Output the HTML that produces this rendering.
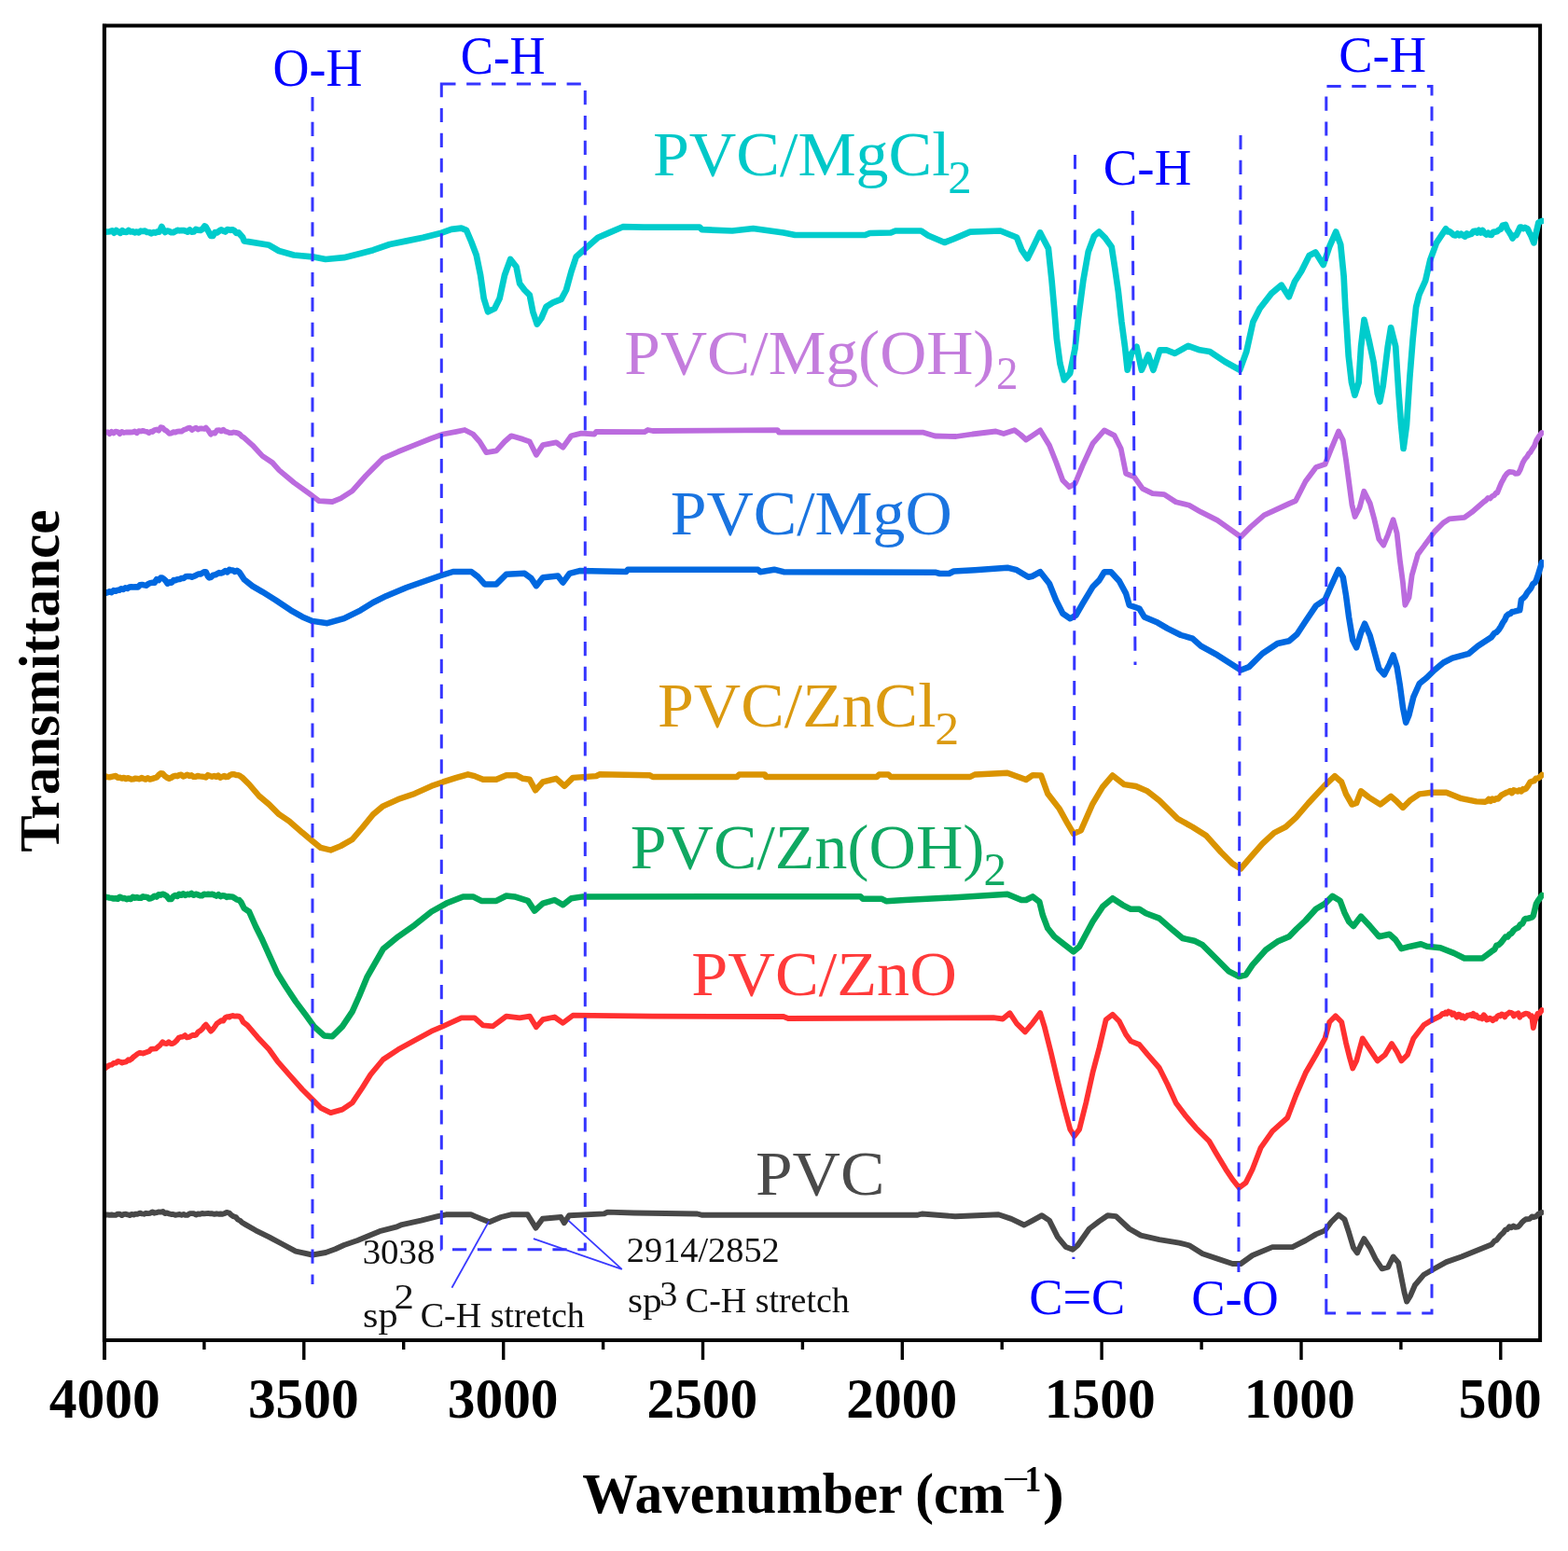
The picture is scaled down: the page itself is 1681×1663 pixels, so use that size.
<!DOCTYPE html><html><head><meta charset="utf-8"><style>html,body{margin:0;padding:0;background:#fff;}svg{display:block;}text{font-family:"Liberation Serif",serif;}</style></head><body>
<svg width="1681" height="1663" viewBox="0 0 1681 1663">
<rect width="100%" height="100%" fill="#fff"/>
<defs><clipPath id="pa"><rect x="111" y="27" width="1544" height="1411"/></clipPath></defs>
<g stroke="#000" fill="none">
<rect x="111.8" y="27.5" width="1539.3" height="1409.5" stroke-width="4"/>
<line x1="112.0" y1="1437" x2="112.0" y2="1458" stroke-width="3.4"/>
<line x1="218.9" y1="1437" x2="218.9" y2="1447" stroke-width="3.4"/>
<line x1="325.8" y1="1437" x2="325.8" y2="1458" stroke-width="3.4"/>
<line x1="432.7" y1="1437" x2="432.7" y2="1447" stroke-width="3.4"/>
<line x1="539.7" y1="1437" x2="539.7" y2="1458" stroke-width="3.4"/>
<line x1="646.6" y1="1437" x2="646.6" y2="1447" stroke-width="3.4"/>
<line x1="753.5" y1="1437" x2="753.5" y2="1458" stroke-width="3.4"/>
<line x1="860.4" y1="1437" x2="860.4" y2="1447" stroke-width="3.4"/>
<line x1="967.3" y1="1437" x2="967.3" y2="1458" stroke-width="3.4"/>
<line x1="1074.2" y1="1437" x2="1074.2" y2="1447" stroke-width="3.4"/>
<line x1="1181.1" y1="1437" x2="1181.1" y2="1458" stroke-width="3.4"/>
<line x1="1288.1" y1="1437" x2="1288.1" y2="1447" stroke-width="3.4"/>
<line x1="1395.0" y1="1437" x2="1395.0" y2="1458" stroke-width="3.4"/>
<line x1="1501.9" y1="1437" x2="1501.9" y2="1447" stroke-width="3.4"/>
<line x1="1608.8" y1="1437" x2="1608.8" y2="1458" stroke-width="3.4"/>
</g>
<g clip-path="url(#pa)" fill="none" stroke-linejoin="round" stroke-linecap="round">
<polyline stroke="#484848" stroke-width="5.9" points="112.0,1303.0 115.2,1302.4 117.4,1302.9 119.6,1302.5 121.8,1302.9 124.0,1302.9 126.2,1301.7 128.4,1301.6 130.6,1303.1 132.8,1301.9 135.0,1301.8 136.8,1302.3 139.0,1303.1 141.2,1301.9 143.4,1302.5 145.6,1301.6 147.8,1301.7 150.0,1300.6 152.2,1301.4 154.4,1301.7 156.6,1300.8 158.8,1301.1 161.0,1300.8 163.2,1299.4 165.4,1300.7 167.6,1300.2 169.8,1299.4 172.5,1299.6 174.7,1299.0 176.9,1301.0 179.1,1300.5 181.3,1301.4 183.5,1302.0 185.7,1302.0 187.9,1302.8 190.3,1302.3 192.5,1302.0 194.7,1302.8 196.9,1302.0 199.1,1302.9 201.3,1302.7 203.5,1301.1 205.7,1301.1 207.9,1301.2 210.1,1302.6 212.3,1301.5 214.5,1301.8 216.7,1301.0 218.9,1301.4 221.1,1301.1 223.3,1300.9 225.5,1301.3 227.7,1301.3 229.9,1301.8 232.1,1301.3 234.3,1301.7 236.5,1301.5 238.7,1301.7 240.9,1301.0 243.1,1299.9 245.6,1300.5 247.8,1302.6 250.0,1304.2 252.8,1305.0 255.0,1307.6 257.2,1308.6 259.4,1310.7 261.7,1312.1 274.2,1319.3 288.5,1326.4 302.8,1334.0 317.0,1341.6 334.9,1345.5 349.2,1343.0 359.5,1339.3 368.8,1335.0 383.3,1330.0 397.8,1324.0 407.0,1320.2 424.6,1315.7 430.9,1313.1 451.4,1308.6 469.2,1304.1 478.2,1302.3 504.9,1302.3 515.6,1306.8 524.6,1310.3 537.1,1305.0 547.8,1302.3 565.6,1302.3 574.5,1316.6 581.7,1306.8 601.3,1305.0 604.9,1311.2 610.2,1303.2 647.7,1301.4 651.3,1299.6 679.8,1300.5 747.6,1301.5 753.0,1302.8 983.0,1302.8 988.4,1301.5 1024.0,1304.2 1070.5,1302.3 1084.2,1306.9 1098.0,1313.5 1107.1,1308.6 1117.0,1303.2 1125.0,1308.6 1133.9,1326.4 1142.8,1337.1 1150.0,1339.8 1155.3,1335.3 1167.8,1317.5 1178.5,1309.4 1187.5,1303.2 1196.4,1304.1 1210.7,1317.5 1223.1,1324.6 1242.8,1329.1 1264.2,1332.6 1274.9,1335.3 1289.2,1344.3 1305.2,1349.6 1321.3,1355.0 1330.2,1355.0 1342.7,1346.0 1364.1,1337.1 1385.6,1337.1 1399.7,1330.0 1410.9,1323.4 1420.5,1319.4 1426.9,1310.5 1435.0,1302.5 1441.4,1307.3 1446.2,1321.8 1451.0,1337.8 1455.0,1343.4 1459.1,1334.6 1462.3,1328.2 1468.7,1337.8 1475.1,1350.7 1481.6,1360.3 1488.0,1358.7 1493.6,1347.5 1499.2,1353.9 1502.4,1369.9 1505.6,1386.0 1508.1,1395.6 1512.1,1389.2 1516.9,1378.0 1526.5,1366.7 1537.8,1360.3 1550.6,1353.1 1566.7,1347.5 1582.7,1341.0 1598.8,1334.6 1602.2,1330.6 1604.4,1329.7 1606.6,1326.9 1608.8,1324.2 1611.6,1321.8 1613.8,1318.7 1616.0,1318.1 1618.1,1315.3 1620.3,1316.3 1622.5,1314.5 1624.7,1315.9 1627.7,1315.3 1629.9,1312.9 1632.1,1310.2 1634.3,1308.3 1635.7,1307.3 1637.9,1307.2 1640.1,1306.8 1642.3,1304.5 1644.5,1305.0 1647.0,1304.1 1649.2,1301.7 1653.0,1300.0"/>
<polyline stroke="#ff3030" stroke-width="5.8" points="112.0,1146.0 115.2,1143.5 117.4,1142.0 119.6,1141.7 121.8,1139.9 124.3,1139.6 126.5,1137.9 128.7,1138.5 130.9,1139.6 133.1,1138.8 135.3,1138.3 137.5,1136.3 138.6,1136.9 140.8,1135.6 143.0,1133.4 145.2,1131.7 147.4,1130.0 149.6,1128.9 151.0,1128.9 153.2,1129.6 155.4,1128.7 157.6,1128.0 159.8,1127.3 162.0,1124.9 164.2,1124.6 167.1,1124.4 169.3,1122.6 171.5,1120.8 174.3,1117.3 176.5,1118.7 178.7,1119.2 180.9,1117.2 183.1,1119.1 185.0,1119.1 187.2,1117.8 189.4,1115.6 191.6,1112.8 193.9,1111.9 196.1,1111.6 198.3,1110.1 200.5,1112.4 202.7,1112.0 204.9,1110.7 207.1,1109.7 208.2,1110.2 210.4,1109.4 212.6,1106.3 214.8,1105.2 217.0,1103.1 219.2,1100.0 220.7,1098.6 222.9,1101.3 226.0,1105.7 228.2,1103.6 230.4,1100.6 232.6,1097.4 234.9,1095.9 237.1,1094.2 239.3,1094.6 241.5,1091.2 243.7,1090.1 245.9,1090.7 247.4,1089.6 249.6,1088.9 251.8,1089.7 254.0,1089.5 256.3,1089.6 258.5,1091.5 260.7,1095.9 265.3,1099.4 276.0,1111.9 288.5,1125.3 297.4,1137.8 309.9,1152.1 324.2,1168.2 334.9,1178.9 343.8,1187.8 354.5,1193.1 367.0,1189.6 377.7,1182.4 388.4,1166.4 397.3,1152.1 410.7,1136.0 426.8,1125.3 444.6,1115.5 462.5,1105.7 475.0,1100.3 494.6,1091.4 508.9,1091.4 517.8,1099.4 528.5,1100.3 542.8,1089.6 557.1,1091.4 567.8,1089.6 574.9,1101.2 582.0,1093.2 594.5,1090.5 603.5,1096.8 614.2,1088.7 699.8,1089.6 840.0,1090.0 845.0,1092.0 1065.0,1091.2 1075.0,1092.5 1082.5,1086.2 1090.0,1097.5 1099.0,1106.4 1107.1,1096.8 1115.2,1086.1 1119.6,1100.3 1126.8,1128.9 1133.9,1159.2 1141.0,1187.8 1147.3,1211.0 1151.8,1218.1 1157.1,1211.0 1164.3,1182.4 1171.4,1150.3 1178.5,1123.5 1185.7,1093.2 1192.8,1087.8 1199.9,1095.0 1207.1,1109.3 1212.4,1116.4 1221.4,1120.0 1230.3,1130.7 1242.8,1145.0 1251.7,1162.8 1260.6,1182.4 1271.3,1196.7 1282.0,1209.2 1296.3,1223.5 1303.5,1236.0 1314.2,1253.8 1321.3,1264.5 1328.4,1273.5 1335.6,1268.1 1342.7,1253.8 1351.6,1230.6 1364.1,1212.8 1380.2,1198.5 1389.5,1174.0 1399.7,1150.3 1410.9,1131.0 1420.5,1113.4 1425.3,1095.7 1431.8,1089.3 1438.2,1095.7 1443.0,1118.2 1447.0,1134.2 1450.2,1145.5 1454.2,1137.5 1460.7,1113.4 1467.1,1123.0 1476.7,1137.5 1484.8,1131.0 1492.0,1119.0 1497.6,1127.8 1502.4,1137.5 1508.9,1131.0 1515.3,1113.4 1526.5,1098.9 1534.6,1094.1 1544.2,1089.3 1546.6,1086.8 1548.2,1087.2 1549.8,1085.5 1551.4,1086.9 1553.0,1084.6 1553.8,1085.3 1555.4,1085.3 1557.0,1087.9 1558.6,1086.5 1560.2,1088.4 1561.8,1090.7 1563.4,1087.6 1565.0,1088.1 1566.7,1090.9 1568.3,1089.4 1569.9,1091.7 1571.5,1090.7 1573.1,1088.7 1574.7,1088.9 1576.3,1087.9 1577.9,1089.0 1579.5,1086.8 1581.1,1089.7 1582.7,1088.5 1584.3,1090.8 1585.9,1091.5 1587.5,1090.8 1589.1,1092.3 1590.7,1088.2 1592.3,1089.9 1593.9,1093.5 1595.5,1093.0 1597.1,1091.6 1598.8,1092.5 1600.4,1094.2 1602.0,1092.1 1603.6,1092.6 1605.2,1089.6 1606.8,1088.6 1608.4,1089.4 1610.0,1087.4 1611.6,1088.1 1613.2,1090.4 1614.9,1087.7 1616.5,1087.0 1618.1,1085.5 1619.7,1085.8 1621.3,1086.4 1622.9,1089.5 1624.5,1087.5 1626.1,1087.3 1627.7,1086.4 1629.3,1090.7 1630.9,1088.5 1632.5,1088.2 1634.1,1087.3 1635.7,1086.7 1637.3,1086.8 1638.9,1087.5 1640.5,1090.0 1642.2,1089.3 1643.8,1102.1 1645.4,1094.8 1647.0,1090.9 1648.6,1086.6 1650.2,1086.6 1653.0,1083.0"/>
<polyline stroke="#00a85a" stroke-width="6.5" points="112.0,961.5 115.2,962.1 117.4,962.6 119.6,962.9 121.8,963.5 124.0,963.2 126.2,963.8 128.4,961.7 131.4,963.2 133.6,963.0 135.8,964.2 138.0,963.4 140.2,964.0 142.4,961.9 144.6,962.7 146.8,962.1 149.0,962.8 151.2,962.8 153.4,961.3 155.6,961.8 157.8,961.9 160.0,963.5 162.2,963.0 163.5,962.3 165.7,960.7 167.9,961.6 170.1,959.2 172.3,959.7 174.3,958.7 176.5,959.4 178.7,960.8 181.4,964.1 183.6,964.0 185.8,961.1 188.0,960.0 190.2,960.9 192.1,958.7 194.3,959.7 196.5,958.2 198.7,959.9 200.9,958.8 203.1,959.2 205.3,957.9 207.5,959.8 210.0,958.7 212.2,959.4 214.4,960.2 216.6,960.2 218.8,958.8 221.0,959.1 223.2,958.8 225.4,958.9 227.6,958.8 229.8,959.6 232.0,960.6 234.2,959.2 236.4,961.1 238.6,960.3 240.8,960.4 243.0,961.9 245.2,961.2 247.4,961.4 249.6,961.8 251.8,963.1 254.0,964.6 256.3,965.0 258.5,967.5 261.7,973.9 267.1,977.5 274.2,993.5 281.3,1007.8 288.5,1023.9 297.4,1043.5 306.3,1057.8 317.0,1073.9 327.7,1088.1 336.7,1100.6 347.4,1110.4 356.3,1111.3 367.0,1100.6 377.7,1084.6 384.9,1068.5 393.8,1047.1 410.7,1017.6 426.8,1004.3 444.6,991.8 462.5,977.5 478.5,968.6 496.4,961.4 507.1,961.4 516.0,965.9 532.1,965.9 542.8,960.5 551.7,961.4 566.0,965.9 573.1,976.6 582.0,968.6 594.5,965.0 603.5,970.3 612.4,963.2 624.9,961.4 922.5,961.2 925.0,963.7 945.0,963.7 950.0,966.2 970.0,965.0 1020.0,962.5 1080.0,958.7 1095.0,965.0 1100.0,965.0 1107.1,961.4 1114.3,966.8 1117.8,981.0 1123.2,995.3 1130.3,1004.3 1139.3,1011.4 1150.9,1020.3 1157.1,1015.0 1171.4,988.2 1182.1,972.1 1192.8,963.2 1203.5,970.3 1212.4,974.8 1221.4,974.8 1228.5,979.3 1242.8,984.6 1257.1,997.1 1267.8,1006.0 1280.3,1008.7 1289.2,1013.2 1303.5,1027.5 1317.7,1041.7 1328.4,1047.1 1335.6,1045.3 1342.7,1034.6 1357.0,1018.5 1369.5,1009.6 1382.0,1004.3 1390.0,996.0 1399.6,987.0 1410.9,974.5 1420.5,968.9 1428.5,960.9 1436.6,965.7 1441.4,978.5 1446.2,988.2 1451.0,993.0 1459.1,982.6 1468.7,993.0 1478.3,1004.2 1489.6,1001.8 1496.0,1007.5 1502.4,1017.1 1512.1,1014.7 1523.3,1012.3 1529.7,1014.7 1544.2,1016.3 1558.6,1021.9 1569.9,1027.5 1589.2,1027.5 1598.8,1020.3 1602.2,1018.1 1604.4,1013.6 1606.6,1013.2 1608.8,1011.2 1611.7,1007.5 1613.9,1004.6 1616.1,1004.6 1618.3,1001.9 1620.5,1000.6 1622.7,997.5 1624.9,995.8 1627.7,994.6 1629.9,991.2 1632.1,990.4 1634.3,986.0 1635.7,985.0 1637.9,984.7 1640.1,984.3 1642.3,983.5 1643.8,981.8 1647.0,968.9 1649.2,965.3 1653.0,960.0"/>
<polyline stroke="#da9300" stroke-width="6.4" points="112.0,832.0 115.2,833.1 117.4,833.4 119.6,832.8 121.8,832.4 124.0,832.0 126.2,833.9 128.4,833.6 130.6,834.6 132.8,833.9 135.0,835.1 137.2,834.1 138.6,834.8 140.8,835.6 143.0,835.4 145.2,834.6 147.4,834.9 149.6,835.3 151.8,834.0 154.0,834.9 156.2,835.6 158.4,834.2 160.6,835.6 163.5,834.8 165.7,834.2 167.9,833.5 170.1,831.1 172.3,829.3 174.3,829.4 176.5,831.9 178.7,833.5 181.4,834.8 183.6,833.9 185.8,832.3 188.0,831.8 190.2,832.2 192.1,831.2 194.3,830.7 196.5,832.5 198.7,831.7 200.9,830.7 203.1,832.0 205.3,831.3 207.5,832.9 209.7,832.9 211.9,832.0 214.1,832.4 216.3,832.6 218.5,832.9 220.7,833.5 222.9,831.1 225.1,832.0 227.3,832.7 229.5,832.0 231.7,832.9 233.9,831.6 236.1,833.8 238.3,832.9 240.5,831.9 242.1,833.0 244.3,832.8 246.5,831.2 248.7,830.2 251.0,830.3 253.2,831.1 255.4,831.1 257.6,832.2 259.9,833.9 267.1,841.0 277.8,853.5 288.5,862.5 299.2,873.2 309.9,880.3 324.2,892.8 334.9,901.7 343.8,908.9 354.5,911.5 365.2,907.1 377.7,900.0 388.4,887.5 400.0,873.2 410.7,864.3 426.8,857.1 444.6,850.9 462.5,842.8 475.0,838.4 489.2,833.9 501.7,830.3 508.9,832.1 517.8,835.7 532.1,835.7 542.8,831.2 553.5,831.2 560.6,834.8 567.8,835.7 574.0,847.3 582.0,838.4 596.3,834.8 605.2,842.8 614.2,833.9 639.2,832.1 642.7,830.3 696.3,831.2 699.8,833.0 790.0,833.0 792.5,830.5 820.0,830.5 821.2,833.0 940.0,833.0 942.5,830.5 952.5,830.5 955.0,833.0 1040.0,833.0 1045.0,830.5 1080.0,828.7 1100.0,836.0 1107.1,831.1 1116.1,831.4 1123.2,851.0 1135.7,867.1 1144.6,883.2 1150.9,893.9 1158.9,890.3 1171.4,861.8 1182.1,843.9 1192.8,831.4 1205.3,841.2 1217.8,843.0 1230.3,848.4 1242.8,858.2 1262.4,877.8 1278.5,886.7 1292.8,895.7 1308.8,913.5 1321.3,926.0 1330.2,931.4 1340.9,918.9 1353.4,904.6 1365.9,893.0 1378.4,886.7 1389.5,876.5 1402.8,861.0 1420.5,841.8 1431.0,832.1 1438.2,838.5 1443.0,851.4 1449.4,862.6 1454.2,861.0 1459.1,848.2 1467.1,854.6 1479.9,862.6 1491.2,853.8 1497.6,859.4 1504.0,865.9 1512.1,857.8 1521.7,851.4 1534.6,849.8 1550.6,849.8 1566.7,856.2 1582.7,859.4 1592.0,859.7 1594.0,859.0 1596.0,856.9 1598.0,858.9 1600.0,856.6 1602.0,857.8 1604.0,856.1 1606.0,856.5 1608.0,854.4 1610.0,852.3 1612.0,851.3 1614.9,849.8 1616.9,849.2 1618.9,848.1 1620.9,850.2 1622.9,847.2 1624.9,847.9 1626.9,848.5 1628.9,847.2 1630.9,848.5 1632.9,846.1 1634.1,846.6 1636.1,845.4 1638.1,842.7 1640.6,838.5 1642.6,837.8 1644.6,837.2 1646.6,834.7 1648.6,834.6 1650.6,833.3 1653.0,831.0"/>
<polyline stroke="#0068e0" stroke-width="6.5" points="112.0,636.5 115.2,635.3 117.4,634.3 119.6,635.1 121.8,633.1 124.0,633.8 126.2,632.8 127.8,632.8 130.0,631.2 132.2,632.0 134.4,630.3 136.6,630.9 138.8,629.5 141.0,629.2 143.2,629.6 145.7,629.3 147.9,629.6 150.1,627.2 152.3,626.9 154.5,627.4 156.7,627.7 158.9,626.2 161.1,625.1 163.5,624.8 165.7,624.8 167.9,621.2 170.1,622.1 172.3,619.5 173.4,619.4 175.6,620.7 177.8,622.9 179.6,625.7 181.8,624.3 184.0,624.7 186.2,622.1 188.4,622.2 190.3,621.2 192.5,621.1 194.7,620.0 196.9,620.0 199.1,618.3 201.3,617.9 203.5,617.9 205.7,618.7 208.2,617.7 210.4,616.7 212.6,615.6 214.8,615.5 217.0,614.4 219.2,613.2 220.7,613.2 222.9,617.9 224.2,619.4 226.4,618.8 228.6,616.6 230.8,616.3 233.0,615.1 234.9,614.1 237.1,614.6 239.3,613.7 241.5,612.1 243.7,613.4 245.9,610.7 247.4,611.4 249.6,611.6 251.8,613.0 254.0,611.8 256.3,613.2 258.5,616.4 261.7,621.2 270.6,628.4 281.3,634.6 295.6,643.5 311.7,654.3 324.2,661.4 334.9,665.9 350.9,668.2 368.8,663.2 386.6,654.3 400.0,646.0 414.3,638.9 435.7,630.0 453.5,623.7 471.4,617.5 485.7,613.0 505.3,613.0 512.4,618.4 519.6,626.4 532.1,626.4 542.8,615.7 562.4,614.8 569.6,620.2 574.9,628.2 582.0,619.3 598.1,617.5 603.5,624.6 610.6,614.8 621.3,612.1 671.3,613.0 673.1,610.7 812.5,610.7 815.0,613.2 830.0,610.7 840.0,613.2 1002.5,613.7 1007.5,615.0 1017.5,615.0 1022.5,612.5 1045.0,611.2 1080.0,608.7 1090.0,611.2 1102.5,618.7 1107.1,617.7 1115.2,613.2 1125.0,625.7 1132.1,643.5 1139.3,657.8 1147.3,663.2 1153.5,659.6 1160.7,647.1 1171.4,629.3 1178.5,622.1 1183.9,613.2 1191.0,613.2 1199.9,623.0 1207.1,636.4 1210.7,648.9 1221.4,652.5 1226.7,661.4 1241.0,667.6 1251.7,673.9 1266.0,681.0 1278.5,684.6 1287.4,692.6 1305.2,702.4 1330.2,718.5 1339.2,714.9 1353.4,700.7 1369.5,690.0 1382.0,687.3 1390.5,680.0 1399.7,666.0 1410.9,649.4 1420.5,643.0 1426.9,628.5 1435.0,610.9 1439.8,618.9 1443.0,638.2 1446.2,662.3 1450.2,686.4 1454.2,694.4 1459.1,678.3 1463.1,668.7 1468.7,681.5 1473.5,699.2 1478.3,716.9 1484.0,723.3 1489.6,712.1 1493.6,702.4 1497.6,715.3 1500.8,734.6 1504.0,758.6 1507.2,774.7 1510.5,766.7 1515.3,747.4 1521.7,733.0 1529.7,726.5 1537.8,718.5 1547.4,710.5 1557.0,705.6 1574.7,700.8 1584.3,692.8 1598.8,683.2 1602.2,678.7 1604.4,677.9 1606.8,675.1 1609.0,671.8 1611.2,667.5 1613.4,664.3 1614.9,660.7 1617.1,658.6 1619.3,657.9 1621.3,655.9 1623.5,655.7 1625.7,655.2 1627.9,654.4 1629.3,654.2 1630.9,643.0 1633.1,641.2 1635.3,638.9 1637.5,635.1 1639.0,633.4 1641.2,630.7 1643.4,626.1 1645.6,624.6 1647.0,622.1 1649.2,615.4 1653.0,603.0"/>
<polyline stroke="#bb6bde" stroke-width="5.8" points="112.0,464.0 115.2,463.2 117.4,465.2 119.6,462.8 121.8,464.4 124.0,462.6 126.2,463.0 128.4,465.1 130.6,462.9 132.8,464.0 135.0,463.5 137.2,463.4 140.0,463.5 142.2,463.4 144.4,462.5 146.6,464.3 148.8,462.2 151.0,462.5 153.2,461.9 155.4,462.5 157.6,462.9 159.8,464.2 162.0,462.7 163.5,463.0 165.7,461.0 167.9,460.5 170.1,461.7 172.3,458.2 174.3,458.6 176.5,460.9 178.7,462.1 181.4,464.8 183.6,464.7 185.8,463.2 188.0,463.7 190.2,462.6 192.4,462.4 194.6,462.6 196.8,461.1 199.2,460.3 201.4,459.1 203.6,458.7 205.8,461.0 208.0,459.6 210.2,458.6 212.4,460.5 214.6,459.3 216.8,459.5 219.0,459.8 220.7,458.6 222.9,460.9 226.0,465.7 228.2,464.2 230.4,464.6 232.6,461.4 235.0,461.2 237.2,462.3 239.4,460.7 241.6,462.7 243.8,463.1 246.0,464.1 248.2,464.2 250.4,463.5 252.8,463.9 255.0,464.4 257.2,465.6 259.4,468.0 261.7,469.3 270.6,477.3 281.3,488.9 292.0,496.0 299.2,504.1 315.2,517.5 334.9,531.7 342.0,537.1 356.3,538.0 365.2,534.4 377.7,526.4 392.0,510.3 400.0,502.1 410.7,491.4 426.8,484.3 444.6,477.1 462.5,470.0 475.0,465.5 489.2,462.8 498.2,461.0 507.1,465.5 514.2,473.5 521.4,485.1 532.1,483.4 541.0,473.5 548.1,467.3 560.6,470.9 567.8,473.5 574.9,487.8 582.0,477.1 596.3,474.4 603.5,479.8 612.4,467.3 623.1,464.6 637.4,465.5 639.2,462.8 690.9,463.2 694.5,461.0 699.8,462.0 833.7,461.2 835.0,463.7 990.0,463.7 1002.5,467.5 1025.0,468.0 1042.5,465.5 1067.5,462.5 1076.0,465.0 1087.5,461.2 1094.0,466.0 1100.0,471.5 1107.1,466.8 1115.2,461.4 1125.0,477.5 1132.1,495.3 1139.3,515.0 1146.4,522.1 1152.6,518.5 1160.7,498.9 1171.4,475.7 1183.9,461.4 1194.6,466.8 1201.7,481.0 1207.1,507.8 1216.0,511.4 1224.9,523.9 1235.6,529.2 1248.1,530.1 1260.6,538.2 1274.9,541.7 1287.4,548.9 1305.2,557.8 1330.2,575.6 1340.9,564.9 1355.2,552.4 1382.0,540.0 1389.0,537.0 1399.7,516.0 1410.9,501.0 1420.5,497.8 1426.9,481.8 1435.0,462.5 1439.8,472.1 1443.0,493.0 1446.2,517.1 1449.4,541.2 1452.6,554.0 1457.5,544.4 1462.3,526.7 1468.7,539.6 1473.5,557.3 1478.3,578.1 1483.2,584.6 1488.0,573.3 1493.6,557.3 1497.6,571.7 1500.8,600.6 1504.0,624.7 1506.4,648.8 1510.5,640.8 1513.7,616.7 1520.1,594.2 1529.7,581.3 1537.8,570.1 1547.4,560.5 1553.8,556.4 1569.9,554.8 1577.9,549.2 1590.8,538.0 1593.0,536.5 1595.2,534.0 1597.4,534.5 1599.6,532.1 1601.8,531.1 1604.0,528.4 1605.2,528.3 1607.4,522.9 1609.6,517.6 1611.8,513.6 1613.3,510.7 1615.5,507.9 1618.1,505.9 1620.3,506.1 1622.5,506.3 1624.7,507.8 1627.7,507.5 1629.9,503.3 1632.5,496.2 1634.7,492.4 1636.9,489.9 1639.1,486.3 1640.6,485.0 1642.8,481.3 1645.0,478.0 1647.2,472.1 1650.2,467.3 1653.0,464.0"/>
<polyline stroke="#00cccc" stroke-width="6.7" points="112.0,248.0 113.6,248.6 115.8,248.5 118.0,248.2 120.2,247.4 122.4,249.7 124.6,247.0 126.8,248.6 129.0,249.8 131.2,247.2 133.4,248.7 135.6,248.9 137.8,247.0 140.0,248.5 142.2,248.2 144.4,249.3 146.6,248.5 148.8,249.4 151.0,247.7 153.2,248.0 155.4,247.6 157.6,249.0 160.0,249.0 162.2,250.3 164.4,249.1 166.6,249.6 168.8,248.3 170.7,248.6 173.4,243.0 175.6,247.5 177.0,249.0 179.2,247.6 181.4,248.1 183.6,249.2 185.8,249.2 188.0,248.1 190.2,246.9 192.4,247.3 194.6,247.0 196.8,247.1 199.0,247.7 201.2,248.6 203.4,246.5 205.6,248.6 207.8,248.5 210.0,245.8 212.2,246.7 215.0,247.0 217.2,245.5 219.4,242.5 220.6,243.2 222.8,247.0 226.0,253.0 228.2,253.0 230.4,249.2 232.6,249.4 235.0,247.7 237.2,246.3 239.4,247.6 241.6,248.5 243.8,246.1 247.0,246.8 249.2,246.3 251.4,247.5 253.6,250.0 255.8,249.4 258.0,252.0 260.2,254.5 261.7,258.4 288.5,262.8 299.0,269.0 315.0,273.5 335.0,275.3 349.0,278.0 368.8,276.2 386.6,271.8 400.0,268.2 417.8,262.0 435.7,258.4 453.5,254.8 471.4,250.3 483.9,245.9 494.6,244.6 500.0,246.8 505.3,259.3 510.7,273.5 515.1,295.0 518.7,320.0 523.1,334.2 530.3,330.7 535.6,320.0 541.0,295.0 547.2,278.0 553.5,286.0 557.1,303.9 562.4,311.0 567.8,316.4 571.3,334.2 575.8,347.6 580.3,341.4 585.6,328.9 592.8,324.4 601.7,320.8 607.0,311.0 612.4,291.4 617.7,275.3 626.7,267.3 641.0,254.8 653.4,249.4 667.7,243.2 690.0,243.7 750.0,243.7 752.5,246.2 785.0,247.5 807.5,245.0 840.0,249.5 852.5,252.0 927.5,252.0 932.5,250.0 955.0,249.5 960.0,247.5 987.5,247.5 995.0,252.5 1012.5,260.0 1022.5,256.2 1040.0,248.7 1072.5,247.5 1090.0,254.5 1095.4,268.2 1101.6,277.1 1107.8,264.6 1115.0,249.4 1123.9,266.4 1127.5,300.3 1130.2,330.7 1132.8,362.8 1136.4,389.6 1140.9,407.4 1147.1,400.3 1152.5,373.5 1156.0,341.4 1161.4,300.3 1166.7,270.0 1173.0,253.0 1178.3,248.6 1184.6,254.8 1191.7,264.6 1195.3,287.8 1198.9,312.8 1202.4,344.9 1206.0,371.7 1208.7,396.7 1213.1,378.8 1218.5,371.7 1223.9,396.7 1231.0,380.6 1236.4,396.7 1243.5,375.3 1250.6,375.3 1259.5,378.8 1273.8,370.8 1286.3,375.3 1297.0,377.0 1313.1,387.8 1329.2,396.7 1336.3,377.0 1343.4,344.9 1350.6,330.7 1363.1,314.6 1373.8,305.7 1381.8,318.2 1388.0,302.0 1395.2,290.7 1403.6,273.9 1410.3,270.5 1418.7,284.0 1425.5,263.8 1432.2,248.6 1437.2,262.1 1440.6,295.8 1442.3,329.4 1444.0,354.7 1445.7,381.6 1449.0,410.3 1452.4,423.7 1456.6,410.3 1459.1,371.5 1462.5,342.9 1467.6,364.8 1472.6,388.4 1476.8,422.0 1479.3,430.5 1482.7,413.6 1487.8,371.5 1491.1,351.3 1496.2,371.5 1499.5,422.0 1502.1,455.7 1504.6,481.0 1508.0,455.7 1511.3,405.2 1514.7,363.1 1518.1,329.4 1521.4,316.0 1528.2,300.8 1533.2,278.9 1540.0,260.4 1547.0,249.8 1550.0,245.3 1552.0,248.4 1554.0,248.2 1556.0,249.7 1558.5,252.0 1560.5,252.5 1562.5,250.5 1564.5,252.3 1566.5,250.8 1568.5,252.4 1570.5,253.6 1572.5,250.4 1573.6,252.0 1575.6,251.3 1577.6,250.7 1579.6,248.1 1581.6,247.7 1583.6,249.5 1585.4,246.9 1587.4,249.4 1589.4,247.0 1591.4,249.9 1593.4,251.5 1595.4,249.7 1597.4,251.8 1598.9,252.0 1600.9,248.9 1602.9,248.6 1604.9,248.3 1606.9,246.5 1608.9,245.7 1610.9,241.8 1612.9,241.3 1614.0,241.0 1616.0,246.1 1618.0,248.9 1620.0,252.2 1621.6,255.4 1623.6,252.5 1625.6,252.1 1627.6,248.1 1629.6,243.5 1630.9,243.6 1632.9,245.2 1634.9,244.0 1637.6,245.3 1639.6,249.5 1641.6,253.2 1644.4,260.4 1646.4,251.4 1649.4,238.5 1653.0,237.0"/>
</g>
<line x1="111.9" y1="25.7" x2="111.9" y2="1458" stroke="#000" stroke-width="3.8"/>
<g fill="none" stroke="#3535ff" stroke-width="3.0" stroke-dasharray="15.2 11.66">
<line x1="335" y1="104" x2="335" y2="1377"/>
<path d="M473.3,89.9 H627.3 V1339.8 H473.3 Z"/>
<path d="M1421.8,1408 V92.5 H1535 V1408 Z"/>
<line x1="1152.5" y1="166" x2="1150.9" y2="1350"/>
<line x1="1214.3" y1="226" x2="1217" y2="713"/>
<line x1="1330" y1="145" x2="1327.9" y2="1364"/>
</g>
<g fill="none" stroke="#3a3aff" stroke-width="1.8">
<line x1="524.2" y1="1309.4" x2="484.4" y2="1380.8"/>
<polyline points="609.3,1308.6 666.7,1360.9 571.9,1328.2"/>
</g>
<text transform="translate(292.53,91.50) scale(0.9634,1)" font-size="56" fill="#0000ff">O-H</text>
<text transform="translate(493.78,79.30) scale(0.9405,1)" font-size="56" fill="#0000ff">C-H</text>
<text transform="translate(1435.29,76.70) scale(0.9809,1)" font-size="55.5" fill="#0000ff">C-H</text>
<text transform="translate(1182.78,198.00) scale(0.9886,1)" font-size="55.5" fill="#0000ff">C-H</text>
<text transform="translate(1103.18,1408.60) scale(0.9884,1)" font-size="55" fill="#0000ff">C=C</text>
<text transform="translate(1277.18,1410.30) scale(0.9884,1)" font-size="55" fill="#0000ff">C-O</text>
<text transform="translate(388.71,1355.00) scale(1.0213,1)" font-size="38" fill="#111">3038</text>
<text transform="translate(671.86,1353.40) scale(0.9953,1)" font-size="38.5" fill="#111">2914/2852</text>
<text transform="translate(388.99,1422.80) scale(1.1433,1)" font-size="37" fill="#111">sp</text>
<text transform="translate(422.58,1403.10) scale(1.1525,1)" font-size="37" fill="#111">2</text>
<text transform="translate(450.76,1422.80) scale(1.0265,1)" font-size="37" fill="#111">C-H stretch</text>
<text transform="translate(672.93,1407.00) scale(1.1133,1)" font-size="37" fill="#111">sp</text>
<text transform="translate(707.20,1400.10) scale(1.0295,1)" font-size="37" fill="#111">3</text>
<text transform="translate(734.86,1407.00) scale(1.0254,1)" font-size="37" fill="#111">C-H stretch</text>
<text transform="translate(699.96,187.50) scale(1.0210,1)" font-size="68.5" fill="#00c8c8">PVC/MgCl</text>
<text transform="translate(1016.31,206.50) scale(1.0200,1)" font-size="50" fill="#00c8c8">2</text>
<text transform="translate(669.37,400.90) scale(1.0132,1)" font-size="68.5" fill="#c47ddd">PVC/Mg(OH)</text>
<text transform="translate(1068.09,417.30) scale(0.9400,1)" font-size="50" fill="#c47ddd">2</text>
<text transform="translate(718.77,573.20) scale(1.0169,1)" font-size="68.5" fill="#1a74e0">PVC/MgO</text>
<text transform="translate(705.06,779.30) scale(1.0185,1)" font-size="68.5" fill="#db9a10">PVC/ZnCl</text>
<text transform="translate(1002.26,798.20) scale(1.0400,1)" font-size="50" fill="#db9a10">2</text>
<text transform="translate(675.76,930.70) scale(1.0188,1)" font-size="68.5" fill="#10a862">PVC/Zn(OH)</text>
<text transform="translate(1054.39,949.20) scale(0.9800,1)" font-size="50" fill="#10a862">2</text>
<text transform="translate(741.25,1067.10) scale(1.0243,1)" font-size="68.5" fill="#ff3a3a">PVC/ZnO</text>
<text transform="translate(809.92,1281.00) scale(1.0408,1)" font-size="68.5" fill="#4a4a4a">PVC</text>
<text transform="translate(52.77,1519.60) scale(0.9667,1)" font-size="61.5" font-weight="bold" fill="#000">4000</text>
<text transform="translate(265.91,1519.60) scale(0.9662,1)" font-size="61.5" font-weight="bold" fill="#000">3500</text>
<text transform="translate(479.74,1519.60) scale(0.9662,1)" font-size="61.5" font-weight="bold" fill="#000">3000</text>
<text transform="translate(693.45,1519.60) scale(0.9662,1)" font-size="61.5" font-weight="bold" fill="#000">2500</text>
<text transform="translate(907.28,1519.60) scale(0.9662,1)" font-size="61.5" font-weight="bold" fill="#000">2000</text>
<text transform="translate(1119.81,1519.60) scale(0.9676,1)" font-size="61.5" font-weight="bold" fill="#000">1500</text>
<text transform="translate(1333.64,1519.60) scale(0.9676,1)" font-size="61.5" font-weight="bold" fill="#000">1000</text>
<text transform="translate(1563.65,1519.60) scale(0.9657,1)" font-size="61.5" font-weight="bold" fill="#000">500</text>
<text transform="translate(624.27,1621.70) scale(0.9741,1)" font-size="61" font-weight="bold" fill="#000">Wavenumber (cm</text>
<text transform="translate(1074.41,1599.30) scale(1.2973,1)" font-size="40" fill="#000">−</text>
<text transform="translate(1098.61,1599.30) scale(0.8881,1)" font-size="40" font-weight="bold" fill="#000">1</text>
<text transform="translate(1117.71,1621.70) scale(1.1429,1)" font-size="61" font-weight="bold" fill="#000">)</text>
<text transform="translate(63,913.66) rotate(-90) scale(0.9631,1)" font-size="61.5" font-weight="bold" fill="#000">Transmittance</text>
</svg></body></html>
